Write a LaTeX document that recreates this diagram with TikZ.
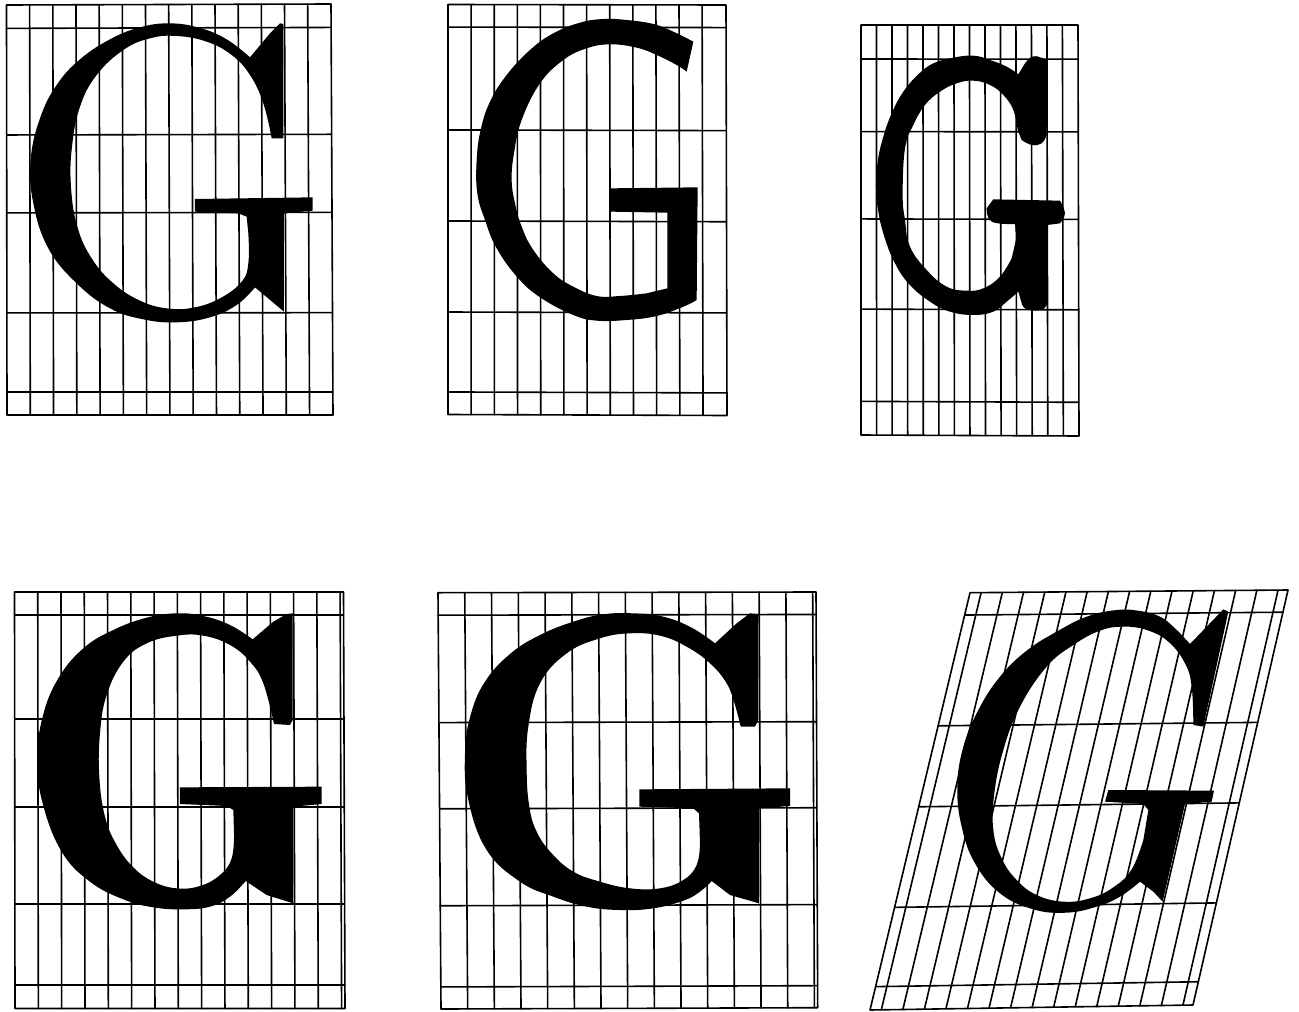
\documentclass[tikz,border=0pt]{standalone}
\usetikzlibrary{calc}
\tikzset{
  gridline/.style={black,line width=1.6pt,line cap=round,line join=round},
  glyph/.style={fill=black,draw=none},
  zoomA/.style={x=0.33333pt,y=-0.33333pt},
  arc/.style={smooth,tension=0.7}
}
% #1 TL, #2 TR, #3 BR, #4 BL, #5 horizontal fractions, #6 first vertical, #7 step, #8 count
\newcommand{\gridq}[8]{%
  \coordinate (qa) at (#1); \coordinate (qb) at (#2);
  \coordinate (qc) at (#3); \coordinate (qd) at (#4);
  \draw[gridline] (qa) -- (qb) -- (qc) -- (qd) -- cycle;
  \foreach \hf in {#5} {\draw[gridline] ($(qa)!\hf!(qd)$) -- ($(qb)!\hf!(qc)$);}
  \foreach \vi in {1,...,#8} {
    \pgfmathsetmacro{\vf}{#6+(\vi-1)*#7}
    \draw[gridline] ($(qa)!\vf!(qb)$) -- ($(qd)!\vf!(qc)$);}
}
\begin{document}
\begin{tikzpicture}[x=1pt,y=-1pt]
\useasboundingbox (0,0) rectangle (1299,1012);
\fill[white] (0,0) rectangle (1299,1012);
\gridq{6.5,5}{331,4}{333,415}{7,415}{.057,.317,.507,.751,.944}{.0714}{.0714}{13}
\gridq{448,4.5}{726,5}{727,415.5}{448,414.5}{.055,.306,.528,.750,.945}{.0831}{.0831}{11}
\gridq{861,25}{1078,25}{1079,436}{861,435}{.083,.26,.473,.693,.918}{.0714}{.0714}{13}
\gridq{14.5,592}{343.5,592}{345,1008.5}{15,1008.5}{.055,.305,.516,.749,.944}{.0707}{.0707}{14}
\gridq{438,592.7}{816,592}{817.7,1007.7}{441,1009}{.054,.312,.519,.752,.947}{.0708}{.0708}{14}
\gridq{970,592.7}{1288,590}{1193,1005}{870,1010}{.0535,.319,.513,.754,.944}{.035}{.0667}{15}

% G 1
\begin{scope}[zoomA]
\fill[glyph] plot[arc] coordinates {(750,172)(680,118)(600,84)(510,70)(420,82)(330,118)(240,178)(170,255)(120,355)(92,480)(100,610)(145,745)(230,850)(330,925)(430,958)(530,967)(630,952)(710,915)(765,862)}
 -- (852,935) -- (852,640) -- (938,632) -- (938,592) -- (585,597) -- (585,635) -- (715,640) -- (740,650)
 -- plot[arc] coordinates {(745,700)(745,790)(725,845)(660,895)(580,923)(500,925)(420,902)(340,850)(275,775)(232,680)(213,560)(216,440)(240,320)(290,225)(370,150)(450,115)(530,108)(620,125)(695,165)(750,225)(790,310)(815,415)}
 -- (850,415) -- (850,72) -- (840,70) -- (810,100) -- cycle;
\end{scope}
% G 2
\begin{scope}[shift={(440,0)},zoomA]
\fill[glyph] plot[arc] coordinates {(760,125)(700,95)(640,72)(560,60)(490,57)(420,68)(340,100)(270,150)(200,225)(150,305)(122,390)(110,480)(112,580)(135,660)(170,745)(235,835)(305,895)(400,945)(470,962)(560,960)(650,948)(730,920)(770,900)}
 -- (773,562) -- (513,565) -- (513,635) -- (682,638) -- (682,865)
 -- plot[arc] coordinates {(620,880)(540,888)(470,888)(400,860)(340,820)(280,750)(245,680)(225,610)(215,540)(222,460)(245,360)(300,250)(370,180)(440,145)(510,133)(590,143)(650,165)(710,195)(740,215)}
 -- (750,170) -- cycle;
\end{scope}
% G 3
\begin{scope}[shift={(850,15)},zoomA]
\fill[glyph] plot[arc] coordinates {(505,178)(470,155)(420,135)(370,122)(310,128)(250,145)(205,178)(160,230)(125,295)(100,365)(83,440)(78,520)(85,590)(100,655)(130,735)(175,805)(240,860)(300,890)(370,900)(430,890)(470,860)(505,830)}
 -- plot[arc] coordinates {(515,865)(530,883)(575,885)(592,865)} -- (592,630)
 -- plot[arc] coordinates {(630,625)(645,595)(630,557)} -- (430,553)
 -- plot[arc] coordinates {(410,580)(425,620)(495,627)} -- (500,665)
 -- plot[arc] coordinates {(485,730)(450,785)(400,820)(350,827)(290,815)(230,765)(180,695)(165,615)(158,540)(165,400)(190,330)(225,270)(270,230)(320,205)(370,197)(420,210)(460,240)(490,285)(503,345)}
 -- plot[arc] coordinates {(515,375)(545,390)(575,385)(590,360)} -- (592,135)
 -- plot[arc] coordinates {(565,125)(545,125)(525,145)} -- cycle;
\end{scope}
% G 4
\begin{scope}[shift={(0,580)},zoomA]
\fill[glyph] plot[arc] coordinates {(758,178)(690,135)(610,108)(530,100)(440,113)(340,150)(250,205)(175,295)(128,410)(112,540)(128,670)(185,815)(270,905)(370,958)(460,982)(550,988)(630,980)(690,950)(737,903)}
 -- (800,945) -- (880,970) -- (880,680) -- (965,672) -- (965,620) -- (540,622) -- (540,672) -- (680,678) -- (700,690)
 -- plot[arc] coordinates {(702,760)(695,835)(660,885)(600,918)(530,925)(460,905)(400,862)(350,795)(315,710)(298,590)(300,460)(320,345)(370,245)(440,190)(530,167)(610,167)(690,195)(750,245)(790,310)(822,432)}
 -- (870,435) -- (878,420) -- (878,100) -- (860,102) -- (820,125) -- cycle;
\end{scope}
% G 5
\begin{scope}[shift={(430,580)},zoomA]
\fill[glyph] plot[arc] coordinates {(855,190)(785,143)(700,110)(610,100)(520,103)(430,125)(330,165)(240,222)(165,305)(122,405)(105,520)(115,660)(170,810)(270,905)(370,950)(470,980)(570,990)(670,985)(760,962)(810,935)(845,903)}
 -- (900,945) -- (987,970) -- (987,685) -- (1080,678) -- (1080,625) -- (628,628) -- (628,680) -- (790,685) -- (807,700)
 -- plot[arc] coordinates {(810,790)(800,855)(760,900)(690,925)(600,925)(510,905)(430,875)(365,820)(320,755)(298,680)(290,570)(295,440)(330,310)(410,220)(510,175)(600,160)(690,167)(770,200)(840,250)(890,310)(915,375)(932,440)}
 -- (975,440) -- (985,420) -- (985,102) -- (960,100) -- (920,130) -- cycle;
\end{scope}
% G 6
\begin{scope}[shift={(860,580)},zoomA]
\fill[glyph] plot[arc] coordinates {(990,192)(945,145)(900,110)(840,93)(770,90)(680,110)(590,155)(500,212)(420,290)(355,390)(310,500)(292,620)(305,740)(345,850)(420,940)(520,988)(620,998)(710,980)(780,950)(840,905)}
 -- (880,935) -- (908,965) -- (975,672) -- (1055,665) -- (1062,632) -- (745,630) -- (735,665) -- (850,672) -- (865,690)
 -- plot[arc] coordinates {(850,780)(815,868)(760,922)(690,955)(610,965)(530,945)(470,900)(425,835)(400,750)(403,640)(430,510)(480,380)(560,260)(640,195)(720,152)(790,140)(860,150)(925,185)(975,250)(995,320)(1000,435)}
 -- (1030,440) -- (1105,95) -- (1090,88) -- (1040,140) -- cycle;
\end{scope}
\end{tikzpicture}
\end{document}
